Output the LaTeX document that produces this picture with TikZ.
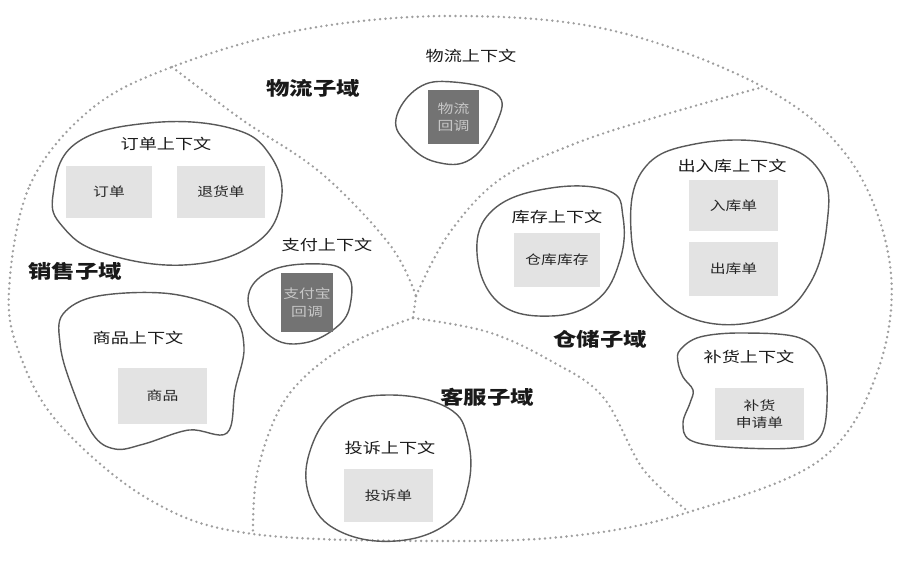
\documentclass[tikz,border=0pt]{standalone}
\usepackage{fontspec}
\usepackage{graphicx}
\setmainfont{Noto Sans CJK SC}
\newcommand{\squashtext}[1]{\scalebox{1}[0.8]{#1}}

\begin{document}
\begin{tikzpicture}[x=0.03cm, y=-0.03cm]
        \tikzset{
            border/.style={draw=black!38, line width=2.3pt, line cap=round,
                dash pattern=on 0pt off 4.6pt},
            blob/.style={draw=black!65, line width=1.2pt},
            subdomain/.style={font=\fontsize{20}{24}\selectfont\bfseries, text=black!90},
            ctxtitle/.style={font=\fontsize{15.5}{18}\selectfont, text=black!90},
            entitybox/.style={
                fill=black!11,
                inner sep=0pt,
                align=center,
                font=\fontsize{13.5}{15}\selectfont,
                text=black!85
            },
            callbackbox/.style={
                fill=black!55,
                inner sep=0pt,
                align=center,
                font=\fontsize{13.5}{15}\selectfont,
                text=black!22
            }
        }

        \useasboundingbox (0,0) rectangle (900,566);

        % outer boundary and the four subdomains
        \coordinate (topleft) at (172,67);
        \coordinate (topright) at (763,87);
        \coordinate (bottomright) at (689,512);
        \coordinate (bottomleft) at (253,534);
        \coordinate (hub) at (416,296);
        \coordinate (hubs) at (413,318);

        \draw[border] plot[smooth cycle, tension=0.6] coordinates {
            (9,290) (30,185) (90,110) (172,67) (300,30) (450,16) (610,30)
            (763,87) (850,160) (890,265) (878,370) (820,460) (689,512)
            (580,535) (450,541) (253,534) (150,500) (60,425) (20,355)};
        \draw[border] plot[smooth, tension=0.6] coordinates {
            (topleft) (241,119) (321,173) (390,245) (hub)};
        \draw[border] plot[smooth, tension=0.6] coordinates {
            (hub) (448,235) (499,180) (574,144) (660,116) (topright)};
        \draw[border] (hub) -- (hubs);
        \draw[border] plot[smooth, tension=0.6] coordinates {
            (hubs) (344,347) (287,397) (258,469) (bottomleft)};
        \draw[border] plot[smooth, tension=0.6] coordinates {
            (hubs) (488,332) (551,361) (603,397) (643,469) (bottomright)};

        \node[subdomain] (logisticsdomain) at (313,88) {\squashtext{物流子域}};
        \node[subdomain] (salesdomain) at (75,271) {\squashtext{销售子域}};
        \node[subdomain] (storagedomain) at (600,339) {\squashtext{仓储子域}};
        \node[subdomain] (servicedomain) at (487,397) {\squashtext{客服子域}};

        % logistics context
        \draw[blob] plot[smooth cycle, tension=0.7] coordinates {
            (396,119) (418,88) (453,82) (497,94) (497,122) (471,159) (436,162) (408,144)};
        \node[ctxtitle] (logisticsctx) at (471,56) {\squashtext{物流上下文}};
        \node[callbackbox, minimum width=51*0.03cm, minimum height=54*0.03cm]
            (logisticscb) at (453.5,117) {\squashtext{物流}\\\squashtext{回调}};

        % order context
        \draw[blob] plot[smooth cycle, tension=0.7] coordinates {
            (53,195) (75,144) (149,123) (230,128) (270,155) (281,202)
            (253,245) (184,265) (103,253) (63,227)};
        \node[ctxtitle] (orderctx) at (166,144) {\squashtext{订单上下文}};
        \node[entitybox, minimum width=86*0.03cm, minimum height=52*0.03cm]
            (order) at (109,192) {\squashtext{订单}};
        \node[entitybox, minimum width=88*0.03cm, minimum height=52*0.03cm]
            (refund) at (221,192) {\squashtext{退货单}};

        % payment context
        \draw[blob] plot[smooth cycle, tension=0.7] coordinates {
            (248,300) (270,271) (321,264) (347,274) (351,300) (339,325)
            (304,343) (270,336)};
        \node[ctxtitle] (paymentctx) at (327,245) {\squashtext{支付上下文}};
        \node[callbackbox, minimum width=52*0.03cm, minimum height=59*0.03cm]
            (paymentcb) at (307,302.5) {\squashtext{支付宝}\\\squashtext{回调}};

        % goods context
        \draw[blob] plot[smooth cycle, tension=0.6] coordinates {
            (63,314) (98,296) (172,294) (230,314) (244,347) (235,390)
            (227,433) (189,430) (144,444) (115,449) (92,433) (69,379) (60,343)};
        \node[ctxtitle] (goodsctx) at (138,338) {\squashtext{商品上下文}};
        \node[entitybox, minimum width=89*0.03cm, minimum height=56*0.03cm]
            (goods) at (162.5,396) {\squashtext{商品}};

        % stock context
        \draw[blob] plot[smooth cycle, tension=0.7] coordinates {
            (477,253) (494,209) (551,188) (609,191) (623,217) (620,260)
            (597,300) (551,316) (499,303)};
        \node[ctxtitle] (stockctx) at (557,217) {\squashtext{库存上下文}};
        \node[entitybox, minimum width=86*0.03cm, minimum height=54*0.03cm]
            (stock) at (557,260) {\squashtext{仓库库存}};

        % in/out context
        \draw[blob] plot[smooth cycle, tension=0.7] coordinates {
            (631,231) (643,170) (695,144) (775,144) (821,173) (827,224)
            (809,285) (769,318) (700,321) (649,285)};
        \node[ctxtitle] (inoutctx) at (732,166) {\squashtext{出入库上下文}};
        \node[entitybox, minimum width=89*0.03cm, minimum height=51*0.03cm]
            (inbound) at (733.5,205.5) {\squashtext{入库单}};
        \node[entitybox, minimum width=89*0.03cm, minimum height=54*0.03cm]
            (outbound) at (733.5,269) {\squashtext{出库单}};

        % replenish context
        \draw[blob] plot[smooth cycle, tension=0.6] coordinates {
            (680,350) (700,337) (743,333) (800,338) (823,363) (827,403)
            (820,437) (793,448) (727,447) (690,440) (683,423) (690,403)
            (693,390) (683,377) (678,362)};
        \node[ctxtitle] (replenishctx) at (749,357) {\squashtext{补货上下文}};
        \node[entitybox, minimum width=89*0.03cm, minimum height=52*0.03cm]
            (replenish) at (759.5,414) {\squashtext{补货}\\\squashtext{申请单}};

        % complaint context
        \draw[blob] plot[smooth cycle, tension=0.7] coordinates {
            (310,451) (339,408) (390,395) (448,408) (468,440) (468,487)
            (448,523) (396,541) (339,531) (310,498)};
        \node[ctxtitle] (complaintctx) at (390,448) {\squashtext{投诉上下文}};
        \node[entitybox, minimum width=89*0.03cm, minimum height=53*0.03cm]
            (complaint) at (388.5,495.5) {\squashtext{投诉单}};
    \end{tikzpicture}
\end{document}
